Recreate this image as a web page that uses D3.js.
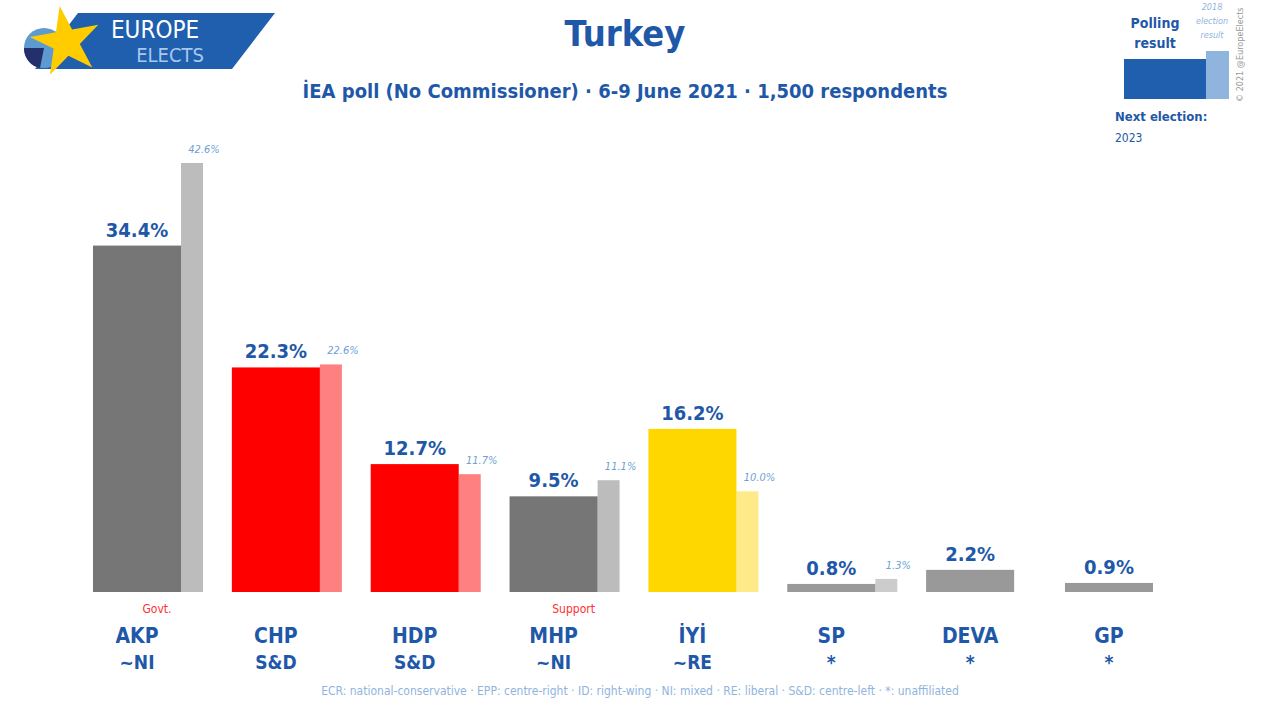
<!DOCTYPE html>
<html><head><meta charset="utf-8">
<script src="https://cdn.jsdelivr.net/npm/d3@7"></script>
<style>body{margin:0;background:#fff}svg{font-family:"Liberation Sans Narrow","DejaVu Sans Condensed",sans-serif}</style>
</head><body><svg width="1280" height="720"></svg>
<script>
const parties = ['AKP', 'CHP', 'HDP', 'MHP', 'İYİ', 'SP', 'DEVA', 'GP'];
const groups = ['~NI', 'S&D', 'S&D', '~NI', '~RE', '*', '*', '*'];
const poll = [34.4, 22.3, 12.7, 9.5, 16.2, 0.8, 2.2, 0.9];
const prev = [42.6, 22.6, 11.7, 11.1, 10.0, 1.3, null, null];
const pollColours = ['#767676', '#ff0000', '#ff0000', '#767676', '#ffd700', '#999999', '#999999', '#999999'];
const prevColours = ['#bcbcbc', '#ff8080', '#ff8080', '#bcbcbc', '#ffea8a', '#cccccc', '#cccccc', '#cccccc'];
const notes = ['Govt.', '', '', 'Support', '', '', '', ''];

const blue = '#1f58a8';
const svg = d3.select('svg');
const base = 592;

const x = d3.scaleBand().domain(parties).range([93, 1153]).paddingInner(0.366).paddingOuter(0);
const y = d3.scaleLinear().domain([0, 42.6]).range([base, 163]);
const bw = x.bandwidth(), pw = 22;

const g = svg.append('g');
parties.forEach((p, i) => {
	const x0 = x(p);
	if (prev[i] != null) {
		g.append('rect').attr('x', x0 + bw).attr('y', y(prev[i])).attr('width', pw)
			.attr('height', base - y(prev[i])).attr('fill', prevColours[i]);
		g.append('text').attr('x', x0 + bw + pw / 2 + 12).attr('y', y(prev[i]) - 10)
			.attr('text-anchor', 'middle').attr('font-size', 11).attr('font-style', 'italic')
			.attr('fill', '#6f9fd4').text(prev[i].toFixed(1) + '%');
	}
	g.append('rect').attr('x', x0).attr('y', y(poll[i])).attr('width', bw)
		.attr('height', base - y(poll[i])).attr('fill', pollColours[i]);
	g.append('text').attr('x', x0 + bw / 2).attr('y', y(poll[i]) - 9)
		.attr('text-anchor', 'middle').attr('font-size', 20).attr('font-weight', 'bold')
		.attr('fill', blue).text(poll[i].toFixed(1) + '%');
	const cx = x0 + bw / 2;
	g.append('text').attr('x', cx + 20).attr('y', 613).attr('text-anchor', 'middle')
		.attr('font-size', 12).attr('fill', '#ff3030').text(notes[i]);
	g.append('text').attr('x', cx).attr('y', 643).attr('text-anchor', 'middle')
		.attr('font-size', 21).attr('font-weight', 'bold').attr('fill', blue).text(p);
	g.append('text').attr('x', cx).attr('y', 669).attr('text-anchor', 'middle')
		.attr('font-size', 19).attr('font-weight', 'bold').attr('fill', blue).text(groups[i]);
});

// titles
svg.append('text').attr('x', 625).attr('y', 46).attr('text-anchor', 'middle').attr('font-size', 36)
	.attr('font-weight', 'bold').attr('fill', blue).text('Turkey');
svg.append('text').attr('x', 625).attr('y', 98).attr('text-anchor', 'middle').attr('font-size', 20)
	.attr('font-weight', 'bold').attr('fill', blue).text('İEA poll (No Commissioner) · 6-9 June 2021 · 1,500 respondents');
svg.append('text').attr('x', 640).attr('y', 695).attr('text-anchor', 'middle').attr('font-size', 12)
	.attr('fill', '#8fb4de').text('ECR: national-conservative · EPP: centre-right · ID: right-wing · NI: mixed · RE: liberal · S&D: centre-left · *: unaffiliated');

// logo
svg.append('path').attr('d', 'M78,13 L275,13 L232,69 L35,69 Z').attr('fill', '#1f5fae');
svg.append('circle').attr('cx', 44).attr('cy', 48).attr('r', 20).attr('fill', '#5c9ad0');
svg.append('path').attr('d', 'M44,48 L24,48 A20,20 0 0,0 40,68 Z').attr('fill', '#23306b');
const star = d3.symbol().type(d3.symbolStar).size(1500)();
svg.append('path').attr('d', star).attr('transform', 'translate(66,42) rotate(-10)').attr('fill', '#ffcc00');
svg.append('text').attr('x', 155).attr('y', 38).attr('text-anchor', 'middle').attr('font-size', 24).attr('fill', '#fff').text('EUROPE');
svg.append('text').attr('x', 170).attr('y', 62).attr('text-anchor', 'middle').attr('font-size', 20).attr('fill', '#a8c8ee').text('ELECTS');

// legend
svg.append('rect').attr('x', 1124).attr('y', 59).attr('width', 82).attr('height', 40).attr('fill', '#1f5fae');
svg.append('rect').attr('x', 1206).attr('y', 51).attr('width', 23).attr('height', 48).attr('fill', '#8fb4de');
svg.append('text').attr('x', 1155).attr('y', 28).attr('text-anchor', 'middle').attr('font-size', 14).attr('font-weight', 'bold').attr('fill', blue).text('Polling');
svg.append('text').attr('x', 1155).attr('y', 48).attr('text-anchor', 'middle').attr('font-size', 14).attr('font-weight', 'bold').attr('fill', blue).text('result');
[['2018', 10], ['election', 24], ['result', 38]].forEach(([t, yy]) =>
	svg.append('text').attr('x', 1212).attr('y', yy).attr('text-anchor', 'middle').attr('font-size', 9)
		.attr('font-style', 'italic').attr('fill', '#8fb4de').text(t));
svg.append('text').attr('transform', 'translate(1243,102) rotate(-90)').attr('font-size', 9).attr('fill', '#999').text('© 2021 @EuropeElects');
svg.append('text').attr('x', 1115).attr('y', 121).attr('font-size', 13).attr('font-weight', 'bold').attr('fill', blue).text('Next election:');
svg.append('text').attr('x', 1115).attr('y', 142).attr('font-size', 12).attr('fill', blue).text('2023');
</script></body></html>
